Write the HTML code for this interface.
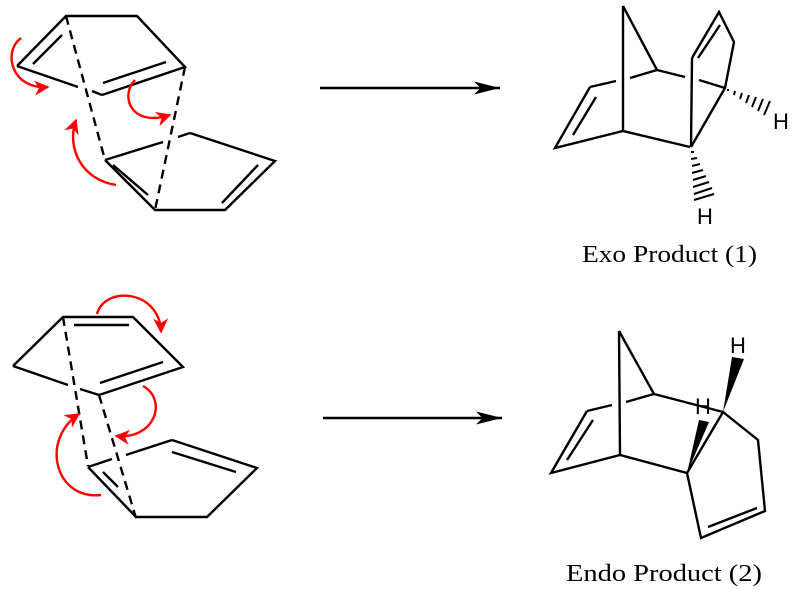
<!DOCTYPE html>
<html><head><meta charset="utf-8"><style>html,body{margin:0;padding:0;background:#fff}svg{display:block}</style></head>
<body>
<svg width="800" height="590" viewBox="0 0 800 590" xmlns="http://www.w3.org/2000/svg">
<defs>
<marker id="ah" viewBox="0 0 10 10" refX="9" refY="5" markerWidth="17" markerHeight="15" orient="auto" markerUnits="userSpaceOnUse"><path d="M0,0 L10,5 L0,10 L3,5 z" fill="red"/></marker>
<marker id="bh" viewBox="0 0 20 10" refX="20" refY="5" markerWidth="26" markerHeight="14" orient="auto" markerUnits="userSpaceOnUse"><path d="M0,0 L20,5 L0,10 L5,5 z" fill="#000"/></marker>
</defs>
<g stroke="#000" stroke-width="2.4" fill="none" stroke-linecap="butt">
<polyline points="17,66 66,16 137,16 185,67 102,95"/>
<line x1="17" y1="66" x2="78" y2="87"/><line x1="92" y1="91" x2="102" y2="95"/>
<line x1="33" y1="64" x2="62" y2="35"/><line x1="103" y1="83" x2="166" y2="62"/>
<line x1="66" y1="16" x2="105" y2="160" stroke-dasharray="9,6"/>
<line x1="185" y1="67" x2="155" y2="210" stroke-dasharray="9,6"/>
<line x1="105" y1="160" x2="163" y2="142"/><line x1="178" y1="137" x2="190" y2="133"/>
<polyline points="190,133 275,161 225,210 155,210 105,160"/>
<line x1="113" y1="165" x2="148" y2="195"/><line x1="258" y1="165" x2="222" y2="203"/>
<polyline points="13,366 63,317 133,317 183,367 99,395"/>
<line x1="13" y1="366" x2="68" y2="385"/><line x1="80" y1="389" x2="99" y2="395"/>
<line x1="74" y1="325" x2="129" y2="325"/><line x1="100" y1="383" x2="163" y2="362"/>
<line x1="63" y1="317" x2="88" y2="466" stroke-dasharray="9,6"/>
<line x1="99" y1="395" x2="136" y2="518" stroke-dasharray="9,6"/>
<line x1="88" y1="467" x2="112" y2="459"/><line x1="126" y1="455" x2="172" y2="440"/>
<polyline points="172,440 257,468 207,517 136,517 88,467"/>
<line x1="103" y1="472" x2="118" y2="487"/><line x1="172" y1="452" x2="236" y2="472"/>
<line x1="320" y1="88" x2="500" y2="88" marker-end="url(#bh)"/>
<line x1="323" y1="418" x2="502" y2="418" marker-end="url(#bh)"/>
<line x1="623" y1="6" x2="623" y2="131"/>
<line x1="623" y1="6" x2="657" y2="70"/>
<line x1="657" y1="70" x2="630" y2="78"/><line x1="616" y1="81" x2="590" y2="87"/>
<polyline points="590,87 555,148 623,131 690,147"/>
<line x1="573" y1="135" x2="596" y2="97"/>
<line x1="657" y1="70" x2="685" y2="77"/><line x1="699" y1="80" x2="725" y2="88"/>
<line x1="692" y1="58" x2="691" y2="147"/>
<polyline points="692,58 719,12 734,42 725,88 691,147"/>
<line x1="698" y1="58" x2="720" y2="25"/>
<line x1="619" y1="331" x2="620" y2="455"/>
<line x1="619" y1="331" x2="654" y2="394"/>
<line x1="654" y1="394" x2="626" y2="402"/><line x1="612" y1="405" x2="587" y2="411"/>
<polyline points="587,411 551,473 620,455 687,473 723,412 758,440 765,511 701,538 687,473"/>
<line x1="567" y1="460" x2="593" y2="420"/>
<line x1="654" y1="394" x2="723" y2="412"/>
<line x1="708" y1="527" x2="757" y2="508"/>
</g>
<g stroke="#000" stroke-width="2">
<line x1="728" y1="89" x2="728" y2="91"/>
<line x1="735" y1="91" x2="734" y2="95"/>
<line x1="742" y1="93" x2="740" y2="99"/>
<line x1="749" y1="95" x2="746" y2="103"/>
<line x1="756" y1="97" x2="752" y2="107"/>
<line x1="763" y1="99" x2="758" y2="111"/>
<line x1="770" y1="101" x2="764" y2="115"/>
<line x1="691" y1="152" x2="694" y2="152"/>
<line x1="691" y1="159" x2="697" y2="158"/>
<line x1="692" y1="166" x2="700" y2="164"/>
<line x1="692" y1="173" x2="703" y2="170"/>
<line x1="693" y1="180" x2="706" y2="176"/>
<line x1="693" y1="187" x2="709" y2="182"/>
<line x1="694" y1="194" x2="712" y2="188"/>
<line x1="694" y1="200" x2="714" y2="194"/>
</g>
<polygon points="723,412 732,357 744,359" fill="#000"/>
<polygon points="687,473 699,420 709,422" fill="#000"/>
<g font-family="Liberation Sans, sans-serif" font-size="22" fill="#000">
<text x="773" y="129">H</text>
<text x="697" y="224">H</text>
<text x="730" y="353">H</text>
<text x="695" y="414">H</text>
</g>
<g font-family="Liberation Serif, serif" font-size="24" fill="#000">
<text x="582" y="262" textLength="175" lengthAdjust="spacingAndGlyphs">Exo Product (1)</text>
<text x="566" y="581" textLength="196" lengthAdjust="spacingAndGlyphs">Endo Product (2)</text>
</g>
<g stroke="red" stroke-width="2.4" fill="none">
<path d="M21,38 C2,52 12,90 48,87" marker-end="url(#ah)"/>
<path d="M135,80 C120,95 130,128 170,115" marker-end="url(#ah)"/>
<path d="M116,185 C82,180 66,148 76,120" marker-end="url(#ah)"/>
<path d="M97,314 C105,285 160,290 161,332" marker-end="url(#ah)"/>
<path d="M143,386 C168,400 155,440 116,436" marker-end="url(#ah)"/>
<path d="M101,495 C55,500 40,440 79,414" marker-end="url(#ah)"/>
</g>
</svg>
</body></html>
